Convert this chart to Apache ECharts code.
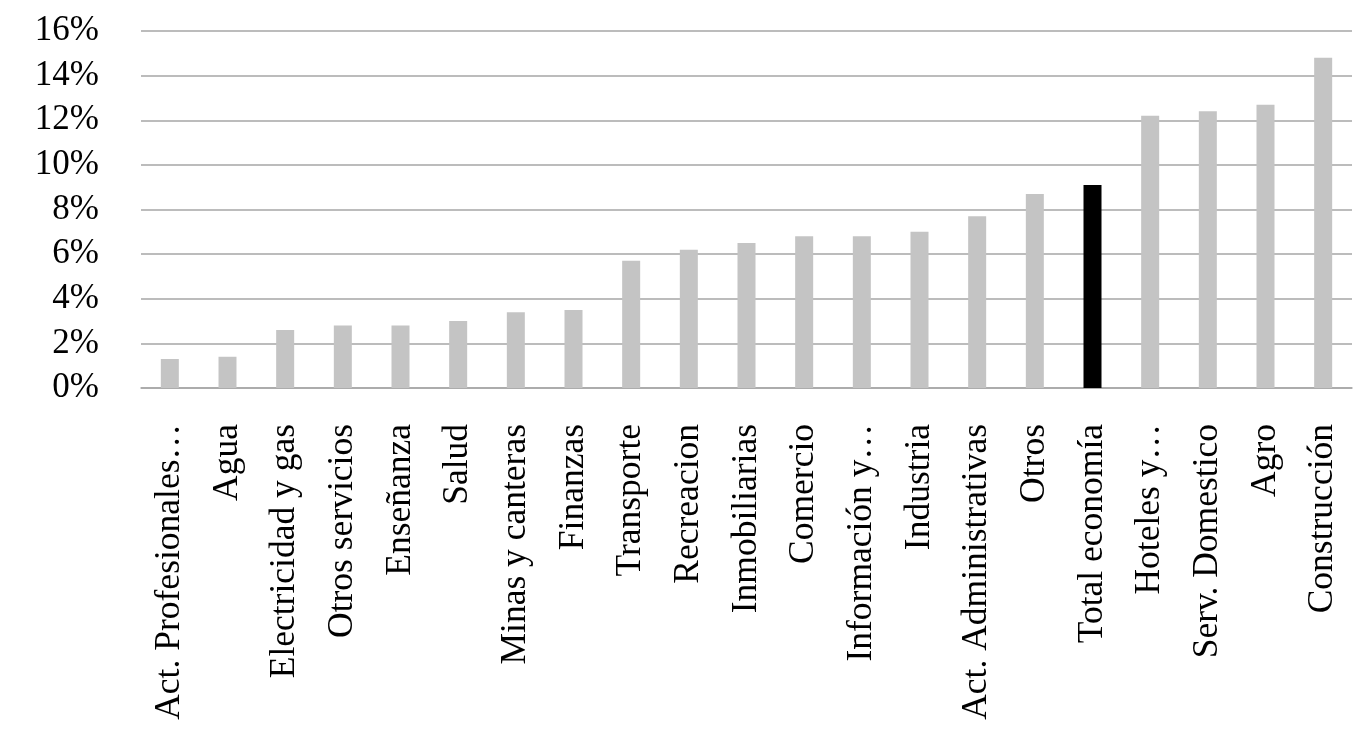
<!DOCTYPE html>
<html>
<head>
<meta charset="utf-8">
<script src="https://cdn.jsdelivr.net/npm/echarts@6/dist/echarts.min.js"></script>
<style>
html,body{margin:0;padding:0;background:#fff;}
#chart{width:1358px;height:732px;}
</style>
</head>
<body>
<div id="chart"></div>
<script>
const categories = ["Act. Profesionales…","Agua","Electricidad y gas","Otros servicios","Enseñanza","Salud","Minas y canteras","Finanzas","Transporte","Recreacion","Inmobiliarias","Comercio","Información y…","Industria","Act. Administrativas","Otros","Total economía","Hoteles y…","Serv. Domestico","Agro","Construcción"];
const values = [1.3,1.4,2.6,2.8,2.8,3.0,3.4,3.5,5.7,6.2,6.5,6.8,6.8,7.0,7.7,8.7,9.1,12.2,12.4,12.7,14.8];
const highlightCategory = "Total economía";
const yTicks = {min:0, max:16, interval:2};

const chart = echarts.init(document.getElementById('chart'));
const fontFamily = '"Liberation Serif","Times New Roman",serif';
chart.setOption({
  animation:false,
  backgroundColor:'#fff',
  grid:{left:141,right:6,top:31,bottom:344,containLabel:false},
  xAxis:{
    type:'category',
    data:categories,
    axisLine:{show:true,lineStyle:{color:'#a6a6a6',width:1.5}},
    axisTick:{show:false},
    axisLabel:{rotate:90,interval:0,margin:36,color:'#000',fontFamily:fontFamily,fontSize:35.5}
  },
  yAxis:{
    type:'value',
    min:yTicks.min,max:yTicks.max,interval:yTicks.interval,
    axisLine:{show:false},
    axisTick:{show:false},
    splitLine:{show:true,lineStyle:{color:'#a6a6a6',width:1.5}},
    axisLabel:{formatter:'{value}%',margin:42,color:'#000',fontFamily:fontFamily,fontSize:35}
  },
  series:[{
    type:'bar',
    barWidth:18,
    data:values.map((v,i)=>({value:v,itemStyle:{color:categories[i]===highlightCategory?'#000':'#c4c4c4'}}))
  }]
});
</script>
</body>
</html>
